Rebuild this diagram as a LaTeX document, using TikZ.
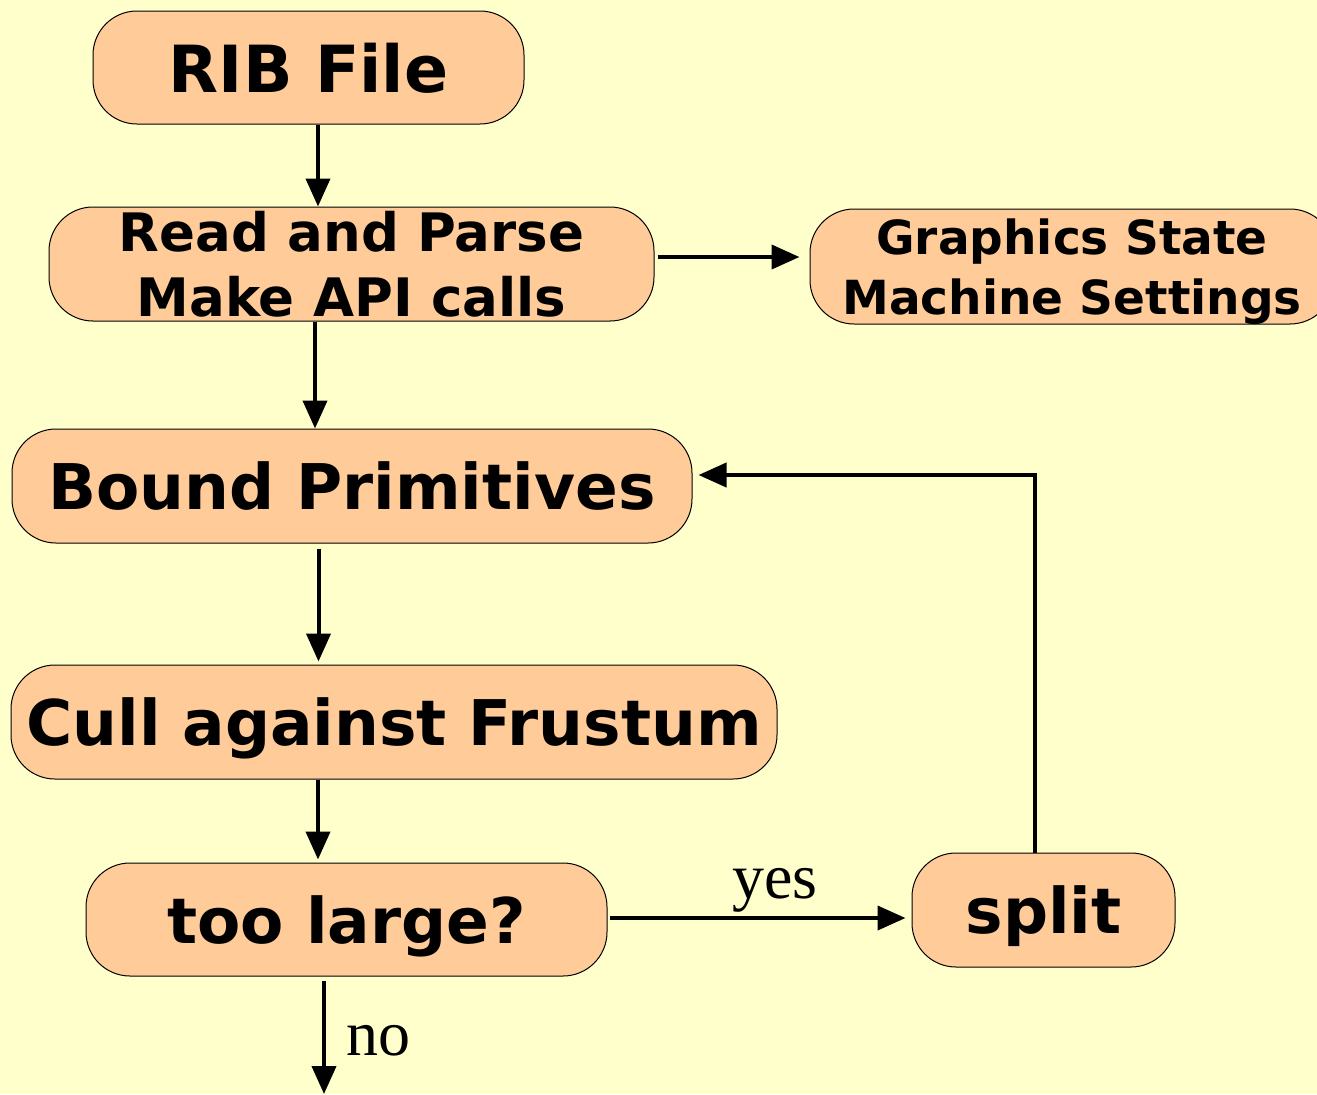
\documentclass[tikz,border=0pt]{standalone}
\usepackage{fontspec}
\usetikzlibrary{arrows.meta,calc}
\newfontfamily\boxfont{DejaVu Sans}
\newfontfamily\labfont{Liberation Serif}
\definecolor{bgcol}{HTML}{FFFFCC}
\definecolor{boxcol}{HTML}{FFCC99}
\tikzset{
  stepbox/.style={draw=black, line width=0.5pt, fill=boxcol, rounded corners=22pt,
    inner sep=0pt, align=center, text depth=0pt, font=\boxfont\bfseries\fontsize{31.5pt}{38pt}\selectfont},
  smallbox/.style={stepbox, font=\boxfont\bfseries\fontsize{26.5pt}{32.5pt}\selectfont},
  arr/.style={line width=2pt, -{Triangle[length=14pt,width=12pt]}},
  lab/.style={font=\labfont\fontsize{32pt}{36pt}\selectfont, inner sep=0pt, anchor=base}
}
\begin{document}
\begin{tikzpicture}[x=0.5pt,y=-0.5pt]
\useasboundingbox (0,0) rectangle (1317,1094);
\fill[bgcol] (0,0) rectangle (1317,1094);

\node[stepbox, minimum width=215.5pt, minimum height=56.5pt, font=\boxfont\bfseries\fontsize{32.5pt}{38pt}\selectfont] (rib) at (308.5,67.5) {RIB File};
\node[smallbox, minimum width=302.5pt, minimum height=57pt] (read) at (351.5,264) {Read and Parse\\Make API calls};
\node[smallbox, minimum width=262pt, minimum height=57.5pt, font=\boxfont\bfseries\fontsize{23.5pt}{30pt}\selectfont] (gfx) at (1072,266.5) {Graphics State\\Machine Settings};
\node[stepbox, minimum width=340pt, minimum height=57pt] (bound) at (352,486) {Bound Primitives};
\node[stepbox, minimum width=383pt, minimum height=57pt] (cull) at (394,722) {Cull against Frustum};
\node[stepbox, minimum width=260.5pt, minimum height=56.5pt] (large) at (346.5,919.5) {too large?};
\node[stepbox, minimum width=131.5pt, minimum height=57pt] (split) at (1043.5,910) {split};

\coordinate (out) at (324,1094);

\draw[arr] ([xshift=4.75pt]rib.south) -- ([xshift=4.75pt]rib.south |- read.north);
\draw[arr] ([xshift=-18.25pt]read.south) -- ([xshift=-18.25pt]read.south |- bound.north);
\draw[arr, shorten <=1.5pt, shorten >=5pt] ([yshift=3.5pt]read.east) -- ([yshift=3.5pt]read.east -| gfx.west);
\draw[arr, shorten <=2.5pt, shorten >=1.5pt] ([xshift=-16.75pt]bound.south) -- ([xshift=-16.75pt]bound.south |- cull.north);
\draw[arr, shorten >=1.5pt] ([xshift=-38pt]cull.south) -- ([xshift=-38pt]cull.south |- large.north);
\draw[arr, shorten <=1pt, shorten >=3pt] ([yshift=0.75pt]large.east) -- ([yshift=0.75pt]large.east -| split.west);
\draw[arr, shorten >=3pt] ([xshift=-4.25pt]split.north) |- ([yshift=5.5pt]bound.east);
\draw[arr, shorten <=2pt] (large.south -| out) -- (out);

\node[lab] (yes) at (775,898) {yes};
\node[lab] (no) at (378.5,1055) {no};
\end{tikzpicture}
\end{document}
